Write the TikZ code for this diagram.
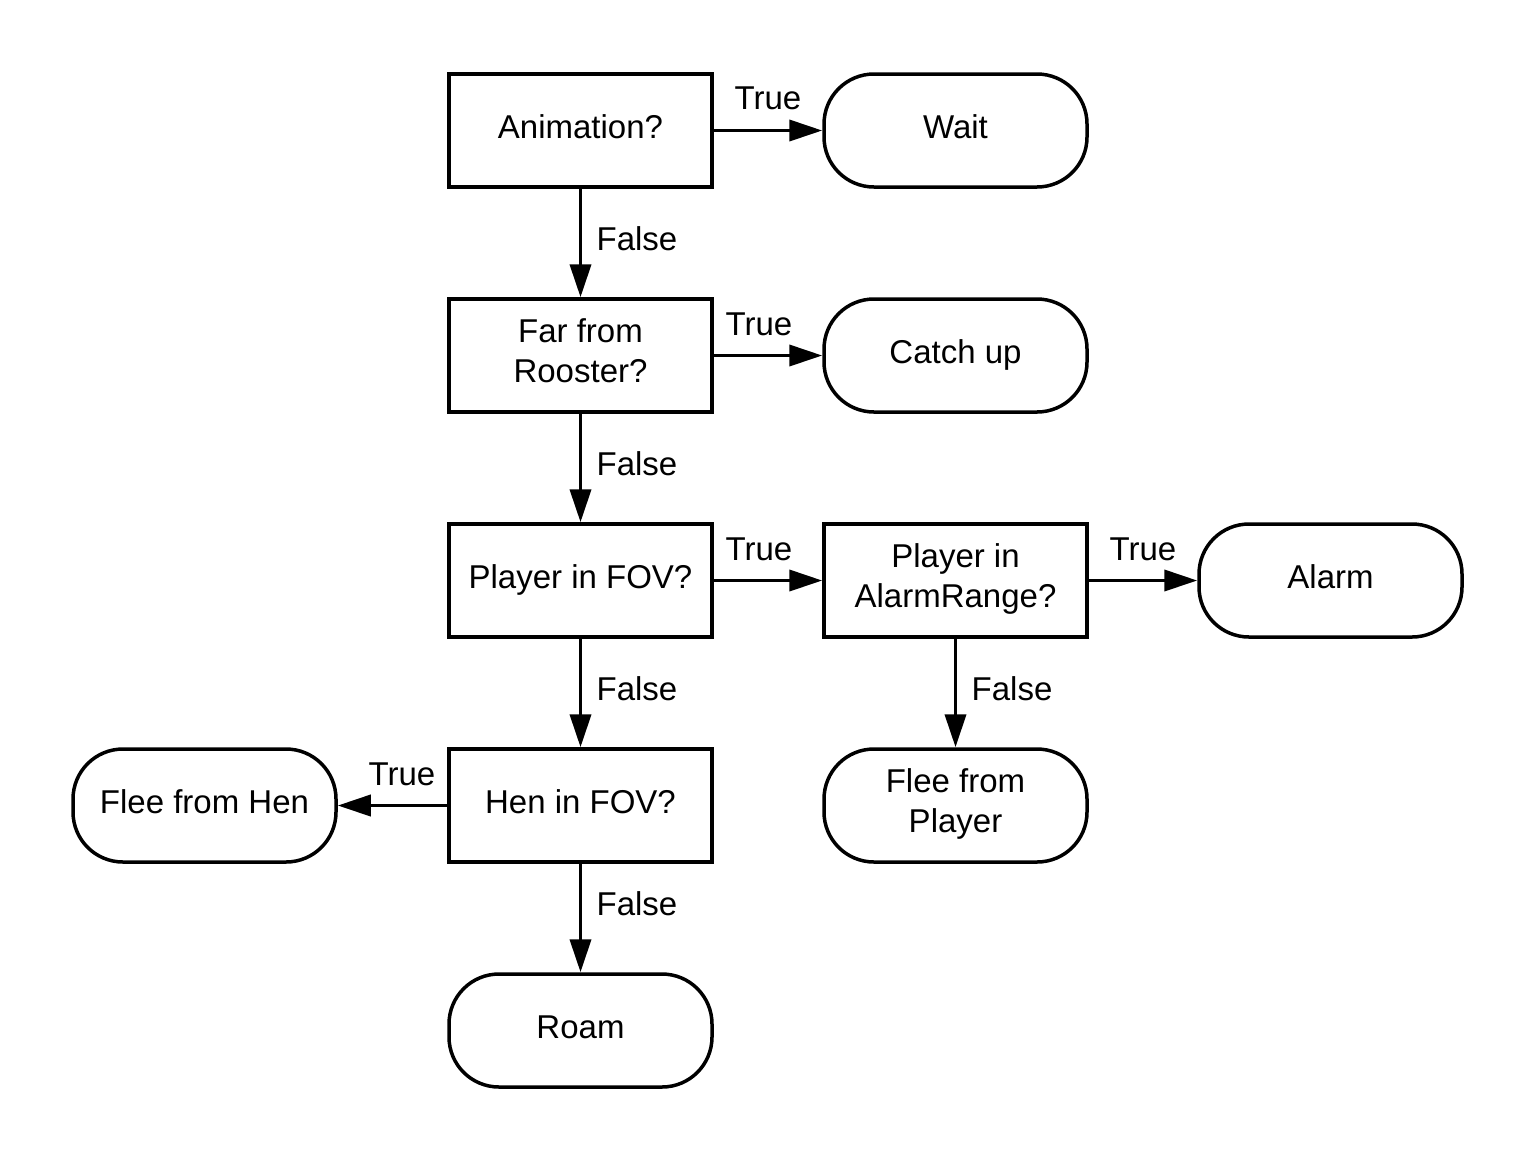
\documentclass[tikz,border=0pt]{standalone}
\usepackage{fontspec}
\setmainfont{Liberation Sans}
\usetikzlibrary{arrows.meta}
\begin{document}
\begin{tikzpicture}[x=1pt,y=-1pt,
  every node/.style={font=\fontsize{33}{40}\selectfont},
  decision/.style={draw,line width=3.5pt,minimum width=263pt,minimum height=113pt,inner sep=0pt,align=center,text height=24pt,text depth=7.4pt},
  twoline/.style={text height=64pt,text depth=9.4pt},
  action/.style={decision,rounded corners=50pt},
  link/.style={line width=3.8pt,-{Triangle[length=33pt,width=21pt]}},
  lbl/.style={inner sep=0pt}]
\useasboundingbox (0,0) rectangle (1538,1163);
\node[decision] (anim) at (580.5,130.5) {Animation?};
\node[action] (wait) at (955.5,130.5) {Wait};
\node[decision,twoline] (far) at (580.5,355.5) {Far from\\Rooster?};
\node[action] (catch) at (955.5,355.5) {Catch up};
\node[decision] (pfov) at (580.5,580.5) {Player in FOV?};
\node[decision,twoline] (prange) at (955.5,580.5) {Player in\\AlarmRange?};
\node[action] (alarm) at (1330.5,580.5) {Alarm};
\node[decision] (hfov) at (580.5,805.5) {Hen in FOV?};
\node[action] (fhen) at (204.5,805.5) {Flee from Hen};
\node[action,twoline] (fplayer) at (955.5,805.5) {Flee from\\Player};
\node[action] (roam) at (580.5,1030.5) {Roam};

\draw[link] (anim) -- (wait);
\draw[link] (anim) -- (far);
\draw[link] (far) -- (catch);
\draw[link] (far) -- (pfov);
\draw[link] (pfov) -- (prange);
\draw[link] (pfov) -- (hfov);
\draw[link] (prange) -- (alarm);
\draw[link] (prange) -- (fplayer);
\draw[link] (hfov) -- (fhen);
\draw[link] (hfov) -- (roam);

\node[lbl] (t1) at (768,98) {True};
\node[lbl] (f1) at (637,239) {False};
\node[lbl] (t2) at (759,324) {True};
\node[lbl] (f2) at (637,464) {False};
\node[lbl] (t3) at (759,549) {True};
\node[lbl] (f3) at (637,689) {False};
\node[lbl] (t4) at (1143,549) {True};
\node[lbl] (f4) at (1012,689) {False};
\node[lbl] (t5) at (402,774) {True};
\node[lbl] (f5) at (637,904) {False};
\end{tikzpicture}
\end{document}
